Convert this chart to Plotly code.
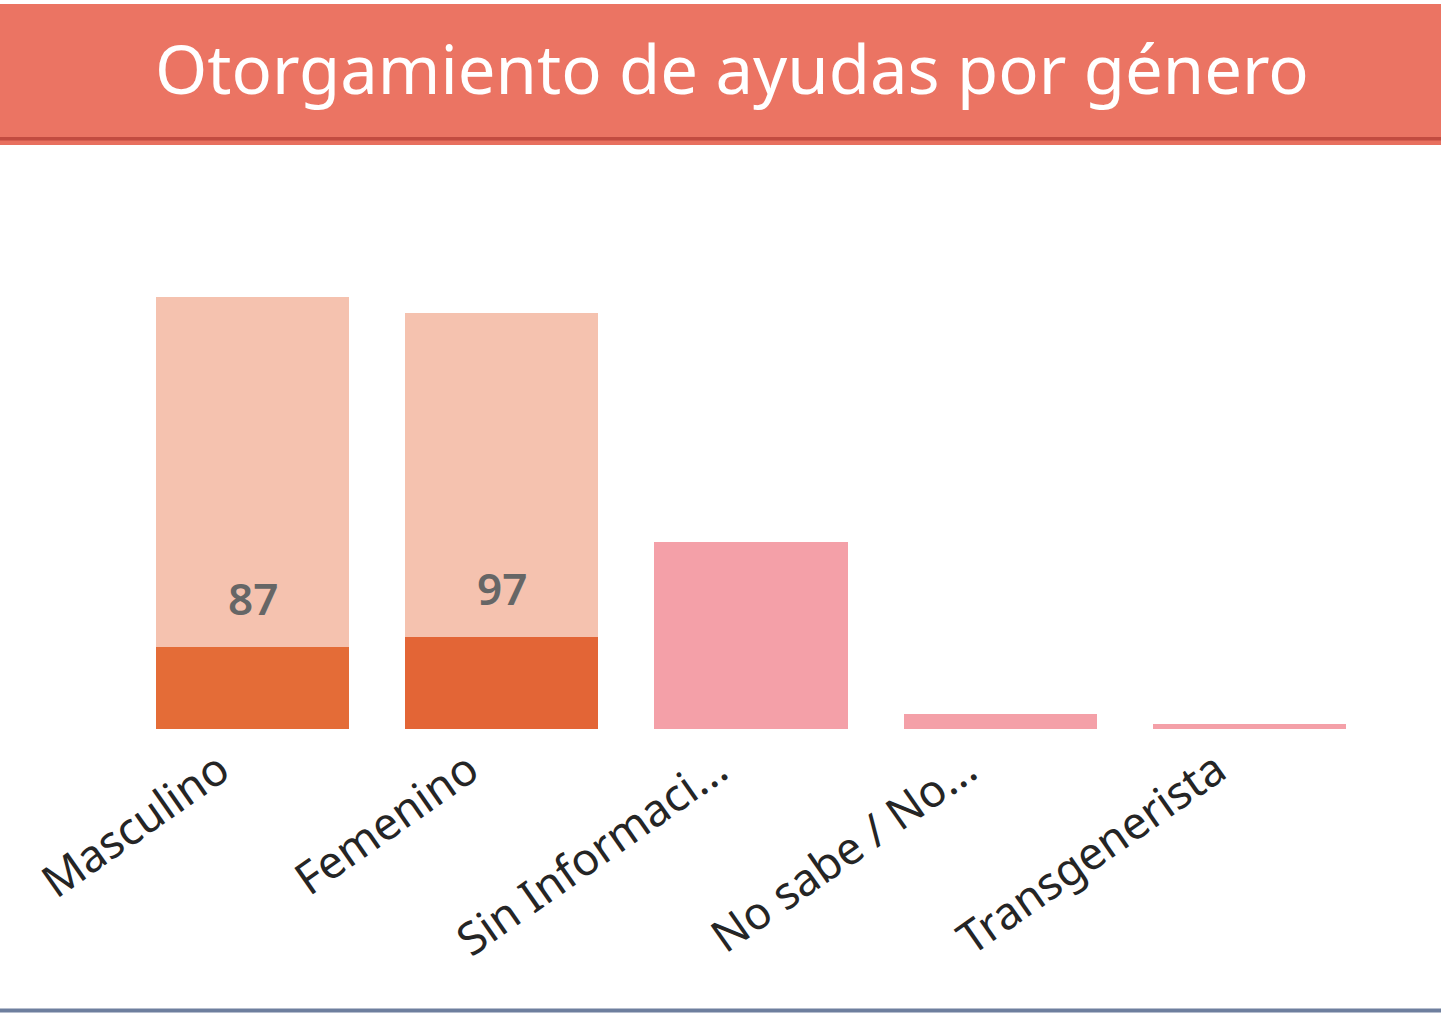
import plotly.graph_objects as go

categories = ["Masculino", "Femenino", "Sin Informaci...", "No sabe / No...", "Transgenerista"]
otorgadas = [87, 97, None, None, None]
restantes = [370, 343, None, None, None]
sin_genero = [None, None, 198, 16, 5]
label_values = [87, 97]

W, H = 1441, 1022
L, R, T, B = 128, 1441 - 1374, 160, 1022 - 729
pw, ph = W - L - R, H - T - B

def px(x):
    return (x - L) / pw

def py(y):
    return (H - B - y) / ph

fig = go.Figure()
fig.add_trace(go.Bar(x=categories, y=otorgadas,
                     marker=dict(color=["#E46C37", "#E36536", "#E46C37", "#E46C37", "#E46C37"]),
                     marker_line_width=0, name="Otorgadas", hoverinfo="x+y"))
fig.add_trace(go.Bar(x=categories, y=restantes, marker_color="#F5C2AF", marker_line_width=0,
                     name="Restantes", hoverinfo="x+y"))
fig.add_trace(go.Bar(x=categories, y=sin_genero, marker_color="#F4A0A8", marker_line_width=0,
                     name="Otros", hoverinfo="x+y"))

for cat, v in zip(categories[:2], label_values):
    fig.add_annotation(x=cat, y=v, xref="x", yref="y", text=str(v), showarrow=False,
                       yanchor="middle", yshift=49,
                       font=dict(family="Noto Sans", size=44, color="#666666", weight=600))

shapes = [
    dict(type="rect", xref="paper", yref="paper", x0=px(0), x1=px(W), y0=py(140), y1=py(145),
         fillcolor="#E8705F", line_width=0, layer="above"),
    dict(type="rect", xref="paper", yref="paper", x0=px(0), x1=px(W), y0=py(4), y1=py(137),
         fillcolor="#EB7463", line_width=0, layer="above"),
    dict(type="rect", xref="paper", yref="paper", x0=px(0), x1=px(W), y0=py(137), y1=py(140.5),
         fillcolor="#C24B40", line_width=0, layer="above"),
    dict(type="rect", xref="paper", yref="paper", x0=px(0), x1=px(W), y0=py(1008.5), y1=py(1012.5),
         fillcolor="#6E7F9E", line_width=0, layer="above"),
]
fig.update_layout(shapes=shapes)

fig.add_annotation(x=px(731.5), y=py(68), xref="paper", yref="paper", text="Otorgamiento de ayudas por género",
                   showarrow=False, xanchor="center", yanchor="middle",
                   font=dict(family="Noto Sans", size=67, color="white"))

fig.update_layout(
    width=W, height=H,
    margin=dict(l=L, r=R, t=T, b=B, pad=0),
    barmode="stack",
    bargap=0.225,
    showlegend=False,
    plot_bgcolor="white",
    paper_bgcolor="white",
    xaxis=dict(range=[-0.5, 4.5], tickangle=-35, showgrid=False, showline=False, ticks="",
               ticklabelstandoff=5, ticklabelshift=-33,
               tickfont=dict(family="Noto Sans", size=45, color="#252525"), fixedrange=True),
    yaxis=dict(range=[0, ph * 1.057], visible=False, showgrid=False, fixedrange=True),
)

fig.write_html("out.html", config={"displayModeBar": False},
               post_script="document.body.style.margin='0';document.body.style.overflow='hidden';")
